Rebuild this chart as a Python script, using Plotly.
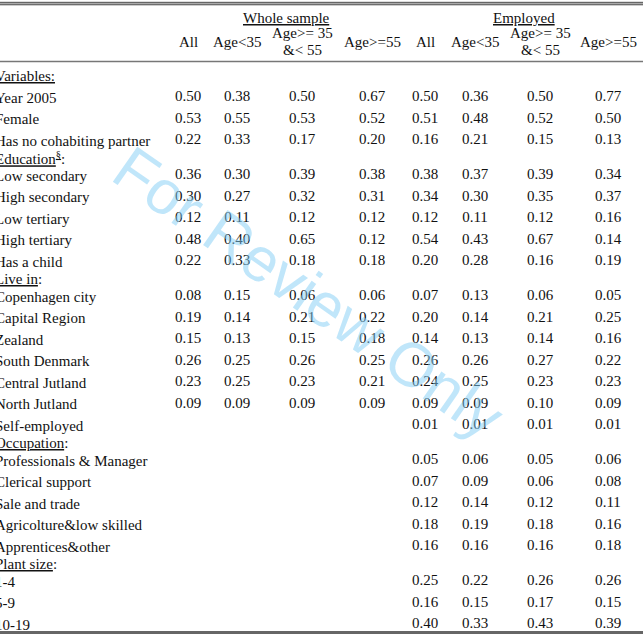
import plotly.graph_objects as go

# ---------------- data ----------------
group_titles = ["Whole sample", "Employed"]
column_labels = ["All", "Age<35", "Age>= 35|&< 55", "Age>=55",
                 "All", "Age<35", "Age>= 35|&< 55", "Age>=55"]

row_labels = [
    "<u>Variables:</u>", "Year 2005", "Female", "Has no cohabiting partner",
    "<u>Education<sup>§</sup></u>:", "Low secondary", "High secondary", "Low tertiary",
    "High tertiary", "Has a child", "<u>Live in</u>:", "Copenhagen city",
    "Capital Region", "Zealand", "South Denmark", "Central Jutland", "North Jutland",
    "Self-employed", "<u>Occupation</u>:", "Professionals & Manager", "Clerical support",
    "Sale and trade", "Agricolture&low skilled", "Apprentices&other",
    "<u>Plant size</u>:", "1-4", "5-9", "10-19",
]
# row kind: t = table title row, s = section header, d = data row
row_kinds = ["t", "d", "d", "d", "s", "d", "d", "d", "d", "d", "s", "d", "d", "d",
             "d", "d", "d", "d", "s", "d", "d", "d", "d", "d", "s", "d", "d", "d"]

whole_all =   [None, 0.50, 0.53, 0.22, None, 0.36, 0.30, 0.12, 0.48, 0.22, None, 0.08, 0.19, 0.15, 0.26, 0.23, 0.09, None, None, None, None, None, None, None, None, None, None, None]
whole_lt35 =  [None, 0.38, 0.55, 0.33, None, 0.30, 0.27, 0.11, 0.40, 0.33, None, 0.15, 0.14, 0.13, 0.25, 0.25, 0.09, None, None, None, None, None, None, None, None, None, None, None]
whole_35_55 = [None, 0.50, 0.53, 0.17, None, 0.39, 0.32, 0.12, 0.65, 0.18, None, 0.06, 0.21, 0.15, 0.26, 0.23, 0.09, None, None, None, None, None, None, None, None, None, None, None]
whole_ge55 =  [None, 0.67, 0.52, 0.20, None, 0.38, 0.31, 0.12, 0.12, 0.18, None, 0.06, 0.22, 0.18, 0.25, 0.21, 0.09, None, None, None, None, None, None, None, None, None, None, None]
emp_all =     [None, 0.50, 0.51, 0.16, None, 0.38, 0.34, 0.12, 0.54, 0.20, None, 0.07, 0.20, 0.14, 0.26, 0.24, 0.09, 0.01, None, 0.05, 0.07, 0.12, 0.18, 0.16, None, 0.25, 0.16, 0.40]
emp_lt35 =    [None, 0.36, 0.48, 0.21, None, 0.37, 0.30, 0.11, 0.43, 0.28, None, 0.13, 0.14, 0.13, 0.26, 0.25, 0.09, 0.01, None, 0.06, 0.09, 0.14, 0.19, 0.16, None, 0.22, 0.15, 0.33]
emp_35_55 =   [None, 0.50, 0.52, 0.15, None, 0.39, 0.35, 0.12, 0.67, 0.16, None, 0.06, 0.21, 0.14, 0.27, 0.23, 0.10, 0.01, None, 0.05, 0.06, 0.12, 0.18, 0.16, None, 0.26, 0.17, 0.43]
emp_ge55 =    [None, 0.77, 0.50, 0.13, None, 0.34, 0.37, 0.16, 0.14, 0.19, None, 0.05, 0.25, 0.16, 0.22, 0.23, 0.09, 0.01, None, 0.06, 0.08, 0.11, 0.16, 0.18, None, 0.26, 0.15, 0.39]

columns = [whole_all, whole_lt35, whole_35_55, whole_ge55,
           emp_all, emp_lt35, emp_35_55, emp_ge55]

watermark = "For Review Only"

# ---------------- layout geometry ----------------
W, H = 643, 634
col_x = [188, 237, 302, 372, 425, 475, 540, 608]
group_x = [286, 524]
label_x = -7
FONT = "Liberation Serif, Times New Roman, serif"
FS = 15
INK = "#111"

# row y positions
row_y = []
y = 76.0
for i, k in enumerate(row_kinds):
    if i > 0:
        prev = row_kinds[i - 1]
        gap = 17.5 if (k == "s" or prev == "s") else 21.5
        y += gap
    row_y.append(y)

fig = go.Figure()

# number cells
xs, ys, ts = [], [], []
for ci, col in enumerate(columns):
    for ri, v in enumerate(col):
        if v is not None:
            xs.append(col_x[ci])
            ys.append(row_y[ri])
            ts.append(f"{v:.2f}")
fig.add_trace(go.Scatter(
    x=xs, y=ys, text=ts, mode="text", textposition="middle center",
    textfont=dict(family=FONT, size=FS, color=INK),
    hoverinfo="skip", cliponaxis=False, showlegend=False))

annotations = []
# watermark (drawn first, behind)
annotations.append(dict(
    x=309, y=292, xref="x", yref="y", text=watermark, showarrow=False,
    textangle=35, font=dict(family="Liberation Sans, Arial, sans-serif", size=62,
                            color="rgba(130,205,245,0.5)")))

# row labels (paper x so that the slightly clipped left edge is kept)
for lab, yy in zip(row_labels, row_y):
    annotations.append(dict(
        x=label_x / W, y=yy, xref="paper", yref="y", text=lab, showarrow=False,
        xanchor="left", yanchor="middle",
        font=dict(family=FONT, size=FS, color=INK)))

# group titles
for g, gx in zip(group_titles, group_x):
    annotations.append(dict(
        x=gx, y=18, xref="x", yref="y", text=f"<u>{g}</u>", showarrow=False,
        xanchor="center", yanchor="middle",
        font=dict(family=FONT, size=FS, color=INK)))

# column labels
for lab, cx in zip(column_labels, col_x):
    parts = lab.split("|")
    pos = [42] if len(parts) == 1 else [33, 50]
    for p, py in zip(parts, pos):
        annotations.append(dict(
            x=cx, y=py, xref="x", yref="y", text=p, showarrow=False,
            xanchor="center", yanchor="middle",
            font=dict(family=FONT, size=FS, color=INK)))

shapes = [
    dict(type="line", xref="x", yref="y", x0=0, x1=W, y0=3.5, y1=3.5,
         line=dict(color="#aaa", width=3)),
    dict(type="line", xref="x", yref="y", x0=0, x1=W, y0=2.3, y1=2.3,
         line=dict(color="#555", width=1)),
    dict(type="line", xref="x", yref="y", x0=0, x1=W, y0=4.8, y1=4.8,
         line=dict(color="#555", width=1)),
    dict(type="line", xref="x", yref="y", x0=0, x1=W, y0=61.5, y1=61.5,
         line=dict(color="#777", width=1.6)),
    dict(type="line", xref="x", yref="y", x0=0, x1=W, y0=632.5, y1=632.5,
         line=dict(color="#666", width=3)),
]

fig.update_layout(
    width=W, height=H, margin=dict(l=0, r=0, t=0, b=0),
    paper_bgcolor="white", plot_bgcolor="white",
    xaxis=dict(range=[0, W], visible=False, fixedrange=True),
    yaxis=dict(range=[H, 0], visible=False, fixedrange=True),
    annotations=annotations, shapes=shapes, showlegend=False,
)

fig.write_html("out.html", config={"displayModeBar": False},
               post_script="document.body.style.margin='0px';document.body.style.overflow='hidden';")
